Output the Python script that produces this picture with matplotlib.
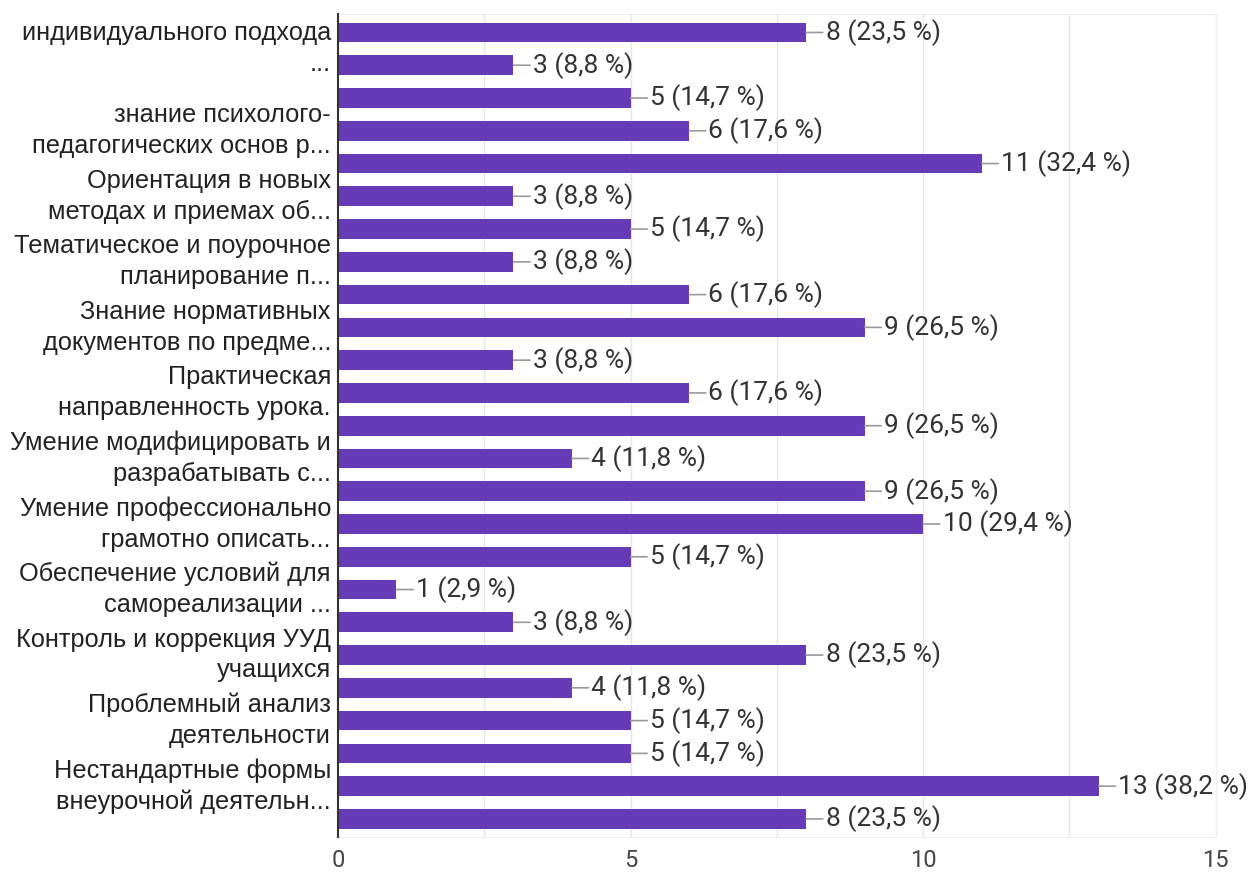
import numpy as np
import matplotlib.pyplot as plt
from matplotlib.ticker import MultipleLocator

# число ответов по каждому варианту (сверху вниз)
counts = [8, 3, 5, 6, 11, 3, 5, 3, 6, 9, 3, 6, 9, 4, 9, 10, 5, 1, 3, 8, 4, 5, 5, 13, 8]
total = 34

# подписи слева стоят не у каждой полосы
label_pos = [0.5, 3, 5, 7, 9, 11, 13, 15, 17, 19, 21, 23]
label_text = [
    "индивидуального подхода\n...",
    "знание психолого-\nпедагогических основ р...",
    "Ориентация в новых\nметодах и приемах об...",
    "Тематическое и поурочное\nпланирование п...",
    "Знание нормативных\nдокументов по предме...",
    "Практическая\nнаправленность урока.",
    "Умение модифицировать и\nразрабатывать с...",
    "Умение профессионально\nграмотно описать...",
    "Обеспечение условий для\nсамореализации ...",
    "Контроль и коррекция УУД\nучащихся",
    "Проблемный анализ\nдеятельности",
    "Нестандартные формы\nвнеурочной деятельн...",
]

bar_color = "#673ab7"

fig = plt.figure(figsize=(12.56, 8.75), dpi=100)
ax = fig.add_axes([0.269, 0.0435, 0.699, 0.94])

y = np.arange(len(counts))
ax.barh(y, counts, height=0.6, color=bar_color, zorder=3)

for yi, c in zip(y, counts):
    pct = f"{c / total * 100:.1f}".replace(".", ",")
    ax.annotate(f"{c} ({pct} %)", xy=(c, yi), xytext=(14, 0),
                textcoords="offset points", ha="left", va="center",
                fontsize=19, family="Roboto", color="#333333",
                arrowprops=dict(arrowstyle="-", color="#999999", lw=1.2,
                                shrinkA=0, shrinkB=0))

ax.set_xlim(0, 15)
ax.set_ylim(len(counts) - 0.45, -0.55)
ax.xaxis.set_major_locator(MultipleLocator(5))
ax.xaxis.set_minor_locator(MultipleLocator(2.5))
ax.grid(axis="x", which="both", color="#e6e6e6", lw=1, zorder=0)

ax.set_yticks(label_pos)
ax.set_yticklabels(label_text, fontsize=18.3, family="Liberation Sans",
                   color="#222222", linespacing=1.36)
for lab in ax.get_yticklabels():
    lab.set_va("center")
ax.tick_params(axis="y", length=0, pad=5)
ax.tick_params(axis="x", which="both", length=0, pad=9,
               labelsize=17, labelcolor="#444444")
for lab in ax.get_xticklabels():
    lab.set_family("Roboto")

for side in ["top", "right", "bottom"]:
    ax.spines[side].set_color("#eeeeee")
ax.spines["left"].set_color("#333333")
ax.spines["left"].set_linewidth(1.5)
ax.spines["left"].set_zorder(4)

fig.savefig("out.png", dpi=100)
